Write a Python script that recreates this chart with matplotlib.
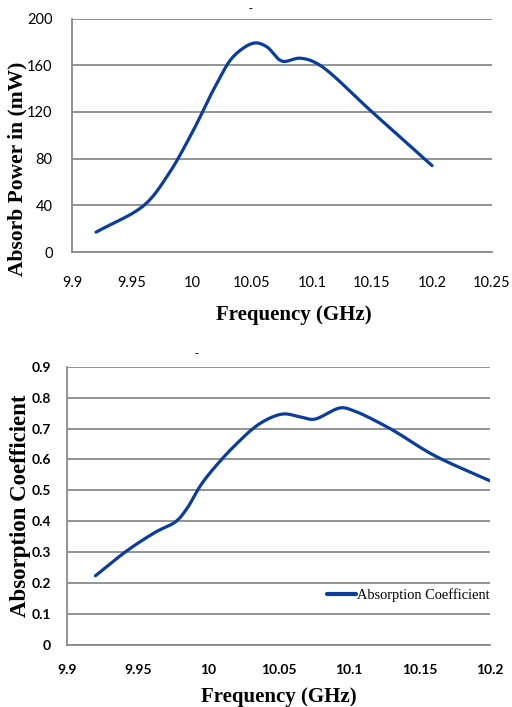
import numpy as np
import matplotlib
matplotlib.use("Agg")
import matplotlib.pyplot as plt

# Absorbed power vs frequency
freq_power = [9.92, 9.96, 9.98, 10.0, 10.02, 10.035, 10.052, 10.062, 10.075, 10.09, 10.105, 10.15, 10.2]
power_mw = [17, 40, 66, 102, 143, 168, 179, 176, 163.5, 166, 161, 120, 74]

# Absorption coefficient vs frequency
freq_coef = [9.92, 9.943, 9.963, 9.977, 9.985, 9.994, 10.001, 10.018, 10.037, 10.053, 10.065,
             10.075, 10.094, 10.103, 10.129, 10.16, 10.2]
coef = [0.224, 0.307, 0.366, 0.399, 0.442, 0.512, 0.555, 0.641, 0.717, 0.747, 0.738,
        0.730, 0.767, 0.758, 0.700, 0.614, 0.531]

power_yticks = [0, 40, 80, 120, 160, 200]
power_xticks = [9.9, 9.95, 10.0, 10.05, 10.1, 10.15, 10.2, 10.25]
power_xlabels = ["9.9", "9.95", "10", "10.05", "10.1", "10.15", "10.2", "10.25"]
coef_yticks = [0, 0.1, 0.2, 0.3, 0.4, 0.5, 0.6, 0.7, 0.8, 0.9]
coef_ylabels = ["0", "0.1", "0.2", "0.3", "0.4", "0.5", "0.6", "0.7", "0.8", "0.9"]
coef_xticks = [9.9, 9.95, 10.0, 10.05, 10.1, 10.15, 10.2]
coef_xlabels = ["9.9", "9.95", "10", "10.05", "10.1", "10.15", "10.2"]

LINE = "#0b3d9c"
GRID = "#8a8a8a"
TICK_FONT = ["Lato", "DejaVu Sans"]
SERIF = ["Liberation Serif", "DejaVu Serif"]


def smooth(x, y, kx, ky, n=40, alpha=0.5):
    """Centripetal Catmull-Rom curve through the points; kx, ky give the
    relative screen scale of each axis so the parameterisation follows the drawn shape."""
    P = np.column_stack([np.asarray(x, float) * kx, np.asarray(y, float) * ky])
    P = np.vstack([2 * P[0] - P[1], P, 2 * P[-1] - P[-2]])
    out = []
    for i in range(1, len(P) - 2):
        p0, p1, p2, p3 = P[i - 1], P[i], P[i + 1], P[i + 2]
        t0 = 0.0
        t1 = t0 + np.linalg.norm(p1 - p0) ** alpha
        t2 = t1 + np.linalg.norm(p2 - p1) ** alpha
        t3 = t2 + np.linalg.norm(p3 - p2) ** alpha
        t = np.linspace(t1, t2, n, endpoint=False)[:, None]
        a1 = (t1 - t) / (t1 - t0) * p0 + (t - t0) / (t1 - t0) * p1
        a2 = (t2 - t) / (t2 - t1) * p1 + (t - t1) / (t2 - t1) * p2
        a3 = (t3 - t) / (t3 - t2) * p2 + (t - t2) / (t3 - t2) * p3
        b1 = (t2 - t) / (t2 - t0) * a1 + (t - t0) / (t2 - t0) * a2
        b2 = (t3 - t) / (t3 - t1) * a2 + (t - t1) / (t3 - t1) * a3
        out.append((t2 - t) / (t2 - t1) * b1 + (t - t1) / (t2 - t1) * b2)
    out.append(P[-2][None, :])
    c = np.vstack(out)
    return c[:, 0] / kx, c[:, 1] / ky


def style(ax):
    for s in ("top", "right"):
        ax.spines[s].set_visible(False)
    for s in ("left", "bottom"):
        ax.spines[s].set_color(GRID)
        ax.spines[s].set_linewidth(1.3)
    ax.yaxis.grid(True, color=GRID, linewidth=1.3)
    ax.set_axisbelow(True)
    ax.tick_params(length=0)


fig = plt.figure(figsize=(5.12, 7.07), dpi=100)

# --- top panel ---
ax1 = fig.add_axes([72 / 512, 1 - 252 / 707, 420 / 512, 233.5 / 707])
style(ax1)
sx, sy = smooth(freq_power, power_mw, 420 / 0.35, 233.5 / 200)
ax1.plot(sx, sy, color=LINE, linewidth=2.3, solid_capstyle="round")
ax1.set_xlim(9.9, 10.25)
ax1.set_ylim(0, 200)
ax1.set_yticks(power_yticks)
ax1.set_xticks(power_xticks)
ax1.set_xticklabels(power_xlabels)
ax1.tick_params(axis="x", pad=17)
ax1.tick_params(axis="y", pad=14)
for lab in ax1.get_xticklabels() + ax1.get_yticklabels():
    lab.set_fontfamily(TICK_FONT)
    lab.set_fontsize(10.5)

fig.text(17 / 512, 1 - 169 / 707, "Absorb Power in (mW)", rotation=90, ha="center", va="center",
         family=SERIF, fontweight="bold", fontsize=15.5)
fig.text(294 / 512, 1 - 315 / 707, "Frequency (GHz)", ha="center", va="center",
         family=SERIF, fontweight="bold", fontsize=15)
fig.text(250 / 512, 1 - 9 / 707, "-", ha="center", va="center", family=SERIF,
         fontweight="bold", fontsize=8)

# --- bottom panel ---
ax2 = fig.add_axes([67.3 / 512, 1 - 645 / 707, 422.7 / 512, 278.3 / 707])
style(ax2)
cx, cy = smooth(freq_coef, coef, 422.7 / 0.3, 278.3 / 0.9)
ax2.plot(cx, cy, color=LINE, linewidth=2.3, solid_capstyle="round",
         label="Absorption Coefficient")
ax2.set_xlim(9.9, 10.2)
ax2.set_ylim(0, 0.9)
ax2.set_yticks(coef_yticks)
ax2.set_yticklabels(coef_ylabels)
ax2.set_xticks(coef_xticks)
ax2.set_xticklabels(coef_xlabels)
ax2.tick_params(axis="x", pad=14)
ax2.tick_params(axis="y", pad=12)
for lab in ax2.get_xticklabels() + ax2.get_yticklabels():
    lab.set_fontfamily(TICK_FONT)
    lab.set_fontweight("bold")
    lab.set_fontsize(10)

leg = ax2.legend(loc="center right", bbox_to_anchor=(1.0, (645 - 595) / 278.3), frameon=False,
                 handlelength=2.0, handletextpad=0.1, borderaxespad=0, borderpad=0,
                 prop={"family": SERIF, "size": 10.4})
for h in leg.get_lines():
    h.set_linewidth(3)

fig.text(20.7 / 512, 1 - 506 / 707, "Absorption Coefficient", rotation=90, ha="center", va="center",
         family=SERIF, fontweight="bold", fontsize=16.5)
fig.text(279 / 512, 1 - 697 / 707, "Frequency (GHz)", ha="center", va="center",
         family=SERIF, fontweight="bold", fontsize=15)
fig.text(196 / 512, 1 - 354 / 707, "-", ha="center", va="center", family=SERIF,
         fontweight="bold", fontsize=8)

fig.savefig("out.png", dpi=100)
